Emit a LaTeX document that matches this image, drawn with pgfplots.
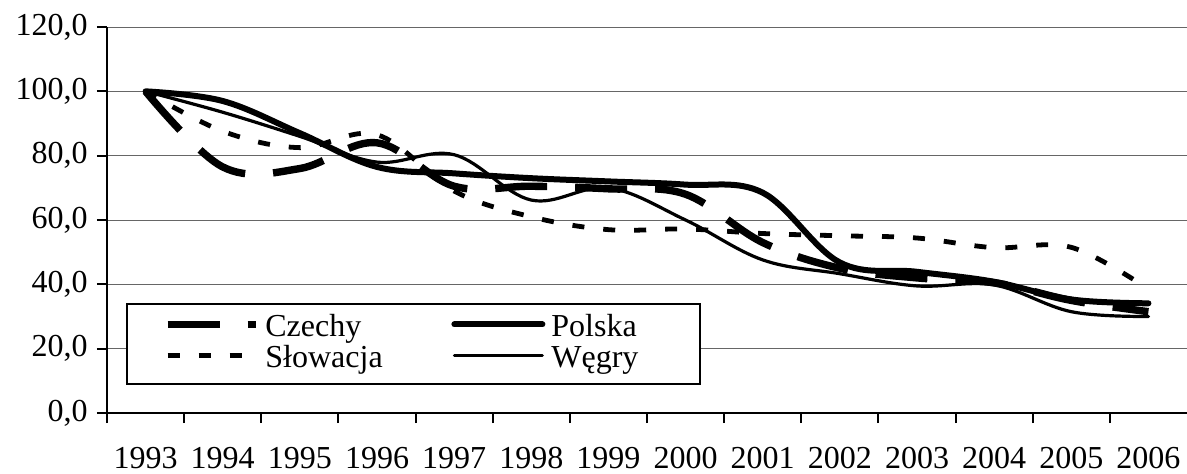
\documentclass[border=0pt]{standalone}
\usepackage{fontspec}
\setmainfont{Liberation Serif}
\usepackage{pgfplots}
\pgfplotsset{compat=1.18}
\newcommand{\lt}[1]{\makebox[74.5pt][l]{#1}}
\begin{document}
\begin{tikzpicture}
\begin{axis}[
  scale only axis, width=540pt, height=193pt,
  xmin=-0.5, xmax=13.5, ymin=0, ymax=120,
  axis x line=bottom, axis y line=left,
  axis line style={-, line width=1.4pt, black},
  ytick={0,20,...,120},
  yticklabels={{0,0},{20,0},{40,0},{60,0},{80,0},{100,0},{120,0}},
  ymajorgrids, grid style={line width=0.5pt, black!60},
  tick align=outside, major tick length=5pt,
  tick style={line width=1pt, black},
  xtick={-0.5,0.5,...,12.5}, xticklabels={},
  extra x ticks={0,1,2,3,4,5,6,7,8,9,10,11,12,13},
  extra x tick labels={1993,1994,1995,1996,1997,1998,1999,2000,2001,2002,2003,2004,2005,2006},
  extra x tick style={major tick length=0pt},
  tick label style={font=\fontsize{16}{19}\selectfont},
  x tick label style={anchor=center, yshift=-22.5pt, inner sep=0pt},
  y tick label style={anchor=east, inner sep=0pt, xshift=-4.5pt},
  legend columns=2,
  legend cell align=left,
  legend image code/.code={\path (-18.5pt,0pt) (47pt,0pt); \draw[#1] (0pt,2pt) -- (44pt,2pt);},
  legend style={at={(0.0176,0.285)}, anchor=north west, draw=black, line width=1pt,
    fill=white, inner xsep=0pt, inner ysep=4.5pt, row sep=0pt, column sep=0pt,
    nodes={inner sep=0pt, text height=12pt, text depth=3.5pt,
      font=\fontsize{16}{19}\selectfont}},
]
\coordinate (BL) at (rel axis cs:0,0);
\coordinate (TR) at (rel axis cs:1,1);
\addplot[black, line width=3.7pt, dash pattern=on 26pt off 14pt, smooth, tension=0.6] coordinates {
(0,100) (1,76.5) (2,76) (3,84) (4,70.5) (5,70.5) (6,69.7) (7,68) (8,53) (9,45) (10,42) (11,40.5) (12,35) (13,31.5)};
\addplot[black, line width=3pt, line cap=round, smooth, tension=0.6] coordinates {
(0,100) (1,97) (2,87) (3,76.5) (4,74.5) (5,73) (6,72) (7,71) (8,68.5) (9,46.8) (10,43.9) (11,40.8) (12,35.3) (13,34.1)};
\addplot[black, line width=2.4pt, dash pattern=on 6pt off 9.5pt, smooth, tension=0.6] coordinates {
(0,100) (1,87.6) (2,82.5) (3,86.5) (4,69) (5,61) (6,57) (7,57.2) (8,55.8) (9,55.1) (10,54.4) (11,51.4) (12,51.5) (13,38.5)};
\addplot[black, line width=1.6pt, line cap=round, smooth, tension=0.6] coordinates {
(0,100) (1,93.5) (2,86) (3,78) (4,80.3) (5,66.2) (6,70) (7,60) (8,47.6) (9,43.3) (10,39.5) (11,39.8) (12,31.5) (13,30)};
\legend{\lt{Czechy}, \lt{Polska}, \lt{Słowacja}, \lt{Węgry}}
\end{axis}
\pgfresetboundingbox
\path ([shift={(-53.5pt,-30pt)}]BL) rectangle ([shift={(0pt,13.5pt)}]TR);
\end{tikzpicture}
\end{document}
